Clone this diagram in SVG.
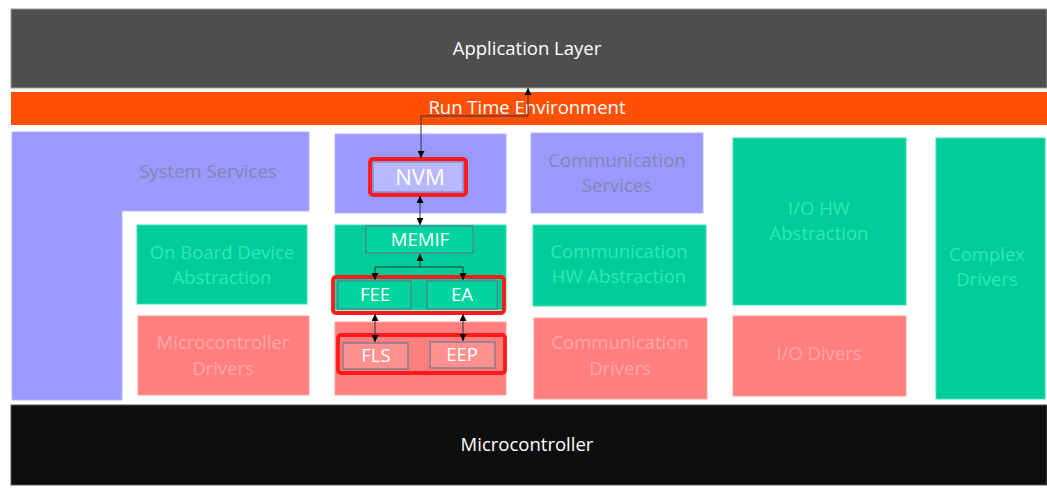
<svg xmlns="http://www.w3.org/2000/svg" width="1047" height="489" viewBox="0 0 1047 489">
<defs>
<style>
text{font-family:"Open Sans","Liberation Sans",sans-serif;text-anchor:middle}
.lbl{font-size:18.5px}
.pu{fill:#9999ff;stroke:#b4b4ff;stroke-width:1}
.gr{fill:#00cc99;stroke:#40e0b8;stroke-width:1}
.pk{fill:#ff7f7f;stroke:#ffa0a0;stroke-width:1}
.tpu{fill:#8585b0}
.tgr{fill:#2ee8b4}
.tpk{fill:#ffa6a6}
.inner-g{fill:#00d5a0;stroke:#5a7a90;stroke-width:1.2}
.inner-p{fill:#ff9090;stroke:#6a7890;stroke-width:1.2}
.red{fill:none;stroke:#ff1a1a;stroke-width:3.8}
.wt{fill:#ffffff;font-size:18.5px}
.con{fill:none;stroke:#333;stroke-width:1}
</style>
<marker id="ah" viewBox="0 0 10 10" refX="10" refY="5" markerWidth="7" markerHeight="7" orient="auto-start-reverse" markerUnits="userSpaceOnUse">
<path d="M0,0 L10,5 L0,10 z" fill="#000"/>
</marker>
</defs>
<rect width="1047" height="489" fill="#ffffff"/>
<g id="app-layer">
<rect x="11" y="9" width="1036" height="79" fill="#4f4f4f" stroke="#9a9a9a" stroke-width="1"/>
<text x="527" y="55" class="wt">Application Layer</text>
</g>
<g id="rte">
<rect x="11" y="92" width="1036" height="33" fill="#ff5006"/>
<text x="527" y="114" class="wt">Run Time Environment</text>
</g>
<g id="microcontroller">
<rect x="11" y="405" width="1036" height="80" fill="#0e0e0e" stroke="#555" stroke-width="1"/>
<text x="527" y="451" class="wt">Microcontroller</text>
</g>
<g id="system-services">
<path d="M12,132 H309 V211 H122 V400 H12 Z" class="pu"/>
<text x="208" y="178" class="lbl tpu">System Services</text>
</g>
<g id="onboard-abs">
<rect x="137" y="225" width="170" height="79" class="gr"/>
<text x="222" y="259" class="lbl tgr">On Board Device</text>
<text x="222" y="284" class="lbl tgr">Abstraction</text>
</g>
<g id="mcu-drivers">
<rect x="138" y="316" width="171" height="79" class="pk"/>
<text x="223" y="349" class="lbl tpk">Microcontroller</text>
<text x="223" y="375" class="lbl tpk">Drivers</text>
</g>
<g id="comm-services">
<rect x="531" y="133" width="172" height="80" class="pu"/>
<text x="617" y="167" class="lbl tpu">Communication</text>
<text x="617" y="192" class="lbl tpu">Services</text>
</g>
<g id="comm-hw-abs">
<rect x="533" y="225" width="173" height="81" class="gr"/>
<text x="619" y="258" class="lbl tgr">Communication</text>
<text x="619" y="283" class="lbl tgr">HW Abstraction</text>
</g>
<g id="comm-drivers">
<rect x="534" y="318" width="173" height="81" class="pk"/>
<text x="620" y="349" class="lbl tpk">Communication</text>
<text x="620" y="375" class="lbl tpk">Drivers</text>
</g>
<g id="io-hw-abs">
<rect x="733" y="138" width="173" height="167" class="gr"/>
<text x="819" y="215" class="lbl tgr">I/O HW</text>
<text x="819" y="240" class="lbl tgr">Abstraction</text>
</g>
<g id="io-drivers">
<rect x="733" y="316" width="173" height="80" class="pk"/>
<text x="819" y="360" class="lbl tpk">I/O Divers</text>
</g>
<g id="complex-drivers">
<rect x="936" y="138" width="109" height="261" class="gr"/>
<text x="987" y="261" class="lbl tgr">Complex</text>
<text x="987" y="286" class="lbl tgr">Drivers</text>
</g>
<g id="mem-services">
<rect x="335" y="134" width="171" height="79" class="pu"/>
</g>
<g id="mem-abs">
<rect x="335" y="225" width="171" height="85" class="gr"/>
</g>
<g id="mem-drivers">
<rect x="335" y="322" width="171" height="73" class="pk"/>
</g>
<g id="nvm">
<rect x="373" y="162" width="90" height="30" fill="#b8b8ff" stroke="#7a7ab0" stroke-width="1"/>
<rect x="370" y="159" width="96" height="36" rx="3" class="red"/>
<text x="420" y="185" fill="#ffffff" font-size="22">NVM</text>
</g>
<g id="memif">
<rect x="366" y="226" width="107" height="27" class="inner-g"/>
<text x="420" y="246" class="wt" font-size="18">MEMIF</text>
</g>
<g id="fee">
<rect x="338" y="281" width="73" height="28" class="inner-g"/>
<text x="375" y="301" class="wt" font-size="17">FEE</text>
</g>
<g id="ea">
<rect x="427" y="281" width="70" height="28" class="inner-g"/>
<text x="462" y="301" class="wt" font-size="17">EA</text>
</g>
<g id="fee-ea-highlight">
<rect x="333" y="277" width="171" height="36" rx="3" class="red"/>
</g>
<g id="fls">
<rect x="343" y="343" width="65" height="26" class="inner-p"/>
<text x="376" y="362" class="wt" font-size="16">FLS</text>
</g>
<g id="eep">
<rect x="430" y="342" width="65" height="26" class="inner-p"/>
<text x="462" y="361" class="wt" font-size="16.5">EEP</text>
</g>
<g id="fls-eep-highlight">
<rect x="338" y="335" width="167" height="38" rx="3" class="red"/>
</g>
<g id="connectors">
<path d="M528,88 V116 H421 V158" class="con" marker-start="url(#ah)" marker-end="url(#ah)"/>
<path d="M420,196 V225" class="con" marker-start="url(#ah)" marker-end="url(#ah)"/>
<path d="M420,254 V267" class="con" marker-start="url(#ah)"/>
<path d="M375,280 V267 H463 V280" class="con" marker-start="url(#ah)" marker-end="url(#ah)"/>
<path d="M375,314 V342" class="con" marker-start="url(#ah)" marker-end="url(#ah)"/>
<path d="M463,314 V341" class="con" marker-start="url(#ah)" marker-end="url(#ah)"/>
</g>
</svg>
